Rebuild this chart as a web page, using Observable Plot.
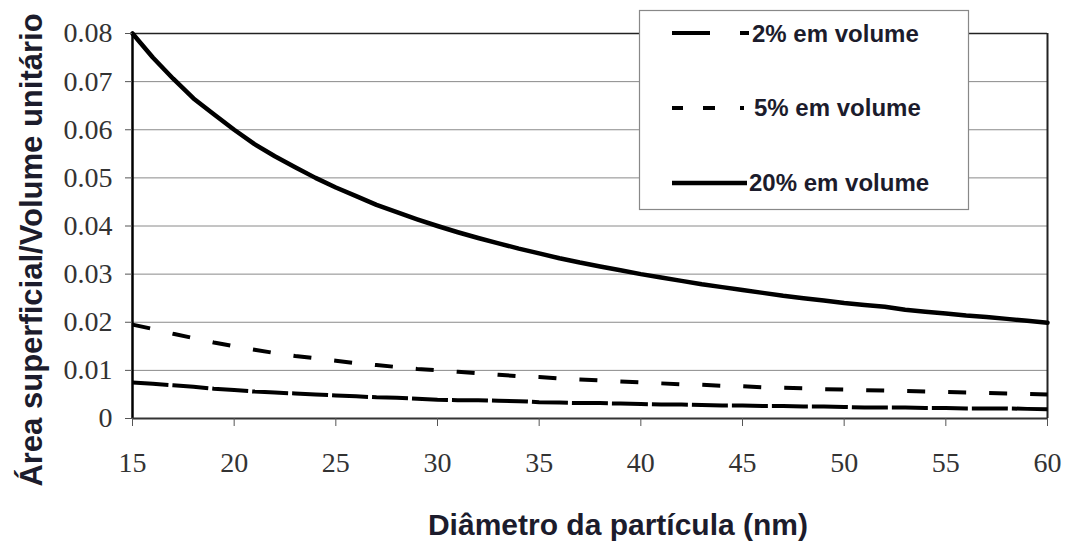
<!DOCTYPE html>
<html>
<head>
<meta charset="utf-8">
<script src="https://cdn.jsdelivr.net/npm/d3@7"></script>
<script src="https://cdn.jsdelivr.net/npm/@observablehq/plot@0.6"></script>
<style>
  body { margin: 0; background: #fff; }
  #wrap { position: relative; width: 1069px; height: 543px; }
  g[aria-label="y-axis tick label"] text, g[aria-label="x-axis tick label"] text {
    font-family: "Liberation Serif", serif !important; font-size: 28px !important; fill: #333 !important;
  }
  .ttl { font-family: "Liberation Sans", Arial, sans-serif; font-weight: bold; fill: #1c1c2c; }
</style>
</head>
<body>
<div id="wrap"></div>
<script>
// Particle diameter (nm)
const diameters = [15,16,17,18,19,20,21,22,23,24,25,26,27,28,29,30,31,32,33,34,35,36,37,38,39,40,41,42,43,44,45,46,47,48,49,50,51,52,53,54,55,56,57,58,59,60];
// Surface area / unit volume
const vol2 = [0.0075,0.0072,0.0069,0.0066,0.0062,0.0059,0.0056,0.0054,0.0052,0.0050,0.0048,0.0046,0.0044,0.0043,0.0041,0.0039,0.0038,0.0038,0.0037,0.0036,0.0034,0.0033,0.0032,0.0032,0.0031,0.0030,0.0029,0.0029,0.0028,0.0027,0.0027,0.0026,0.0026,0.0025,0.0025,0.0024,0.0023,0.0023,0.0023,0.0022,0.0022,0.0021,0.0021,0.0021,0.0020,0.0019];
const vol5 = [0.0195,0.0186,0.0176,0.0167,0.0158,0.0150,0.0143,0.0136,0.0130,0.0125,0.0120,0.0115,0.0111,0.0107,0.0103,0.0100,0.0097,0.0094,0.0091,0.0088,0.0086,0.0083,0.0081,0.0079,0.0077,0.0075,0.0073,0.0071,0.0070,0.0068,0.0067,0.0065,0.0064,0.0063,0.0061,0.0060,0.0059,0.0058,0.0057,0.0056,0.0055,0.0054,0.0053,0.0052,0.0051,0.0050];
const vol20 = [0.0800,0.0750,0.0706,0.0665,0.0632,0.0600,0.0570,0.0545,0.0522,0.0500,0.0480,0.0462,0.0444,0.0429,0.0414,0.0400,0.0387,0.0375,0.0364,0.0353,0.0343,0.0333,0.0324,0.0316,0.0308,0.0300,0.0293,0.0286,0.0279,0.0273,0.0267,0.0261,0.0255,0.0250,0.0245,0.0240,0.0236,0.0232,0.0226,0.0222,0.0218,0.0214,0.0211,0.0207,0.0203,0.0199];
const seriesNames = ["2% em volume", "5% em volume", "20% em volume"];
const xTicks = [15,20,25,30,35,40,45,50,55,60];
const yTicks = [0,0.01,0.02,0.03,0.04,0.05,0.06,0.07,0.08];
const xLabel = "Diâmetro da partícula (nm)";
const yLabel = "Área superficial/Volume unitário";

const rows = (vals, name) => diameters.map((d, i) => ({d, v: vals[i], s: name}));
const d2 = rows(vol2, seriesNames[0]);
const d5 = rows(vol5, seriesNames[1]);
const d20 = rows(vol20, seriesNames[2]);

const xMin = xTicks[0], xMax = xTicks[xTicks.length - 1];
const yMin = yTicks[0], yMax = yTicks[yTicks.length - 1];

const chart = Plot.plot({
  width: 1069,
  height: 543,
  marginLeft: 132,
  marginRight: 22,
  marginTop: 33,
  marginBottom: 125,
  style: {fontFamily: "Liberation Serif, serif", fontSize: "28px"},
  x: {domain: [xMin, xMax]},
  y: {domain: [yMin, yMax]},
  marks: [
    Plot.gridY(yTicks, {stroke: "#8a8a8a", strokeOpacity: 1, strokeWidth: 1}),
    Plot.ruleY([yMax], {stroke: "#222", strokeWidth: 1.5}),
    Plot.ruleX([xMax], {stroke: "#222", strokeWidth: 2}),
    Plot.line(d2, {x: "d", y: "v", stroke: "#000", strokeWidth: 4, strokeDasharray: "36,4", strokeLinecap: "butt"}),
    Plot.line(d5, {x: "d", y: "v", stroke: "#000", strokeWidth: 4, strokeDasharray: "18,23", strokeLinecap: "butt"}),
    Plot.line(d20, {x: "d", y: "v", stroke: "#000", strokeWidth: 4.5}),
    Plot.ruleX([xMin], {stroke: "#000", strokeWidth: 2.5}),
    Plot.ruleY([yMin], {stroke: "#333", strokeWidth: 2}),
    Plot.axisY({ticks: yTicks, tickSize: 7, tickPadding: 13, stroke: "#555",
      fontSize: 28, fontFamily: "Liberation Serif, serif",
      tickFormat: d => d === 0 ? "0" : d.toFixed(2), label: null}),
    Plot.axisX({ticks: xTicks, tickSize: 8, tickPadding: 26, stroke: "#555",
      fontSize: 28, fontFamily: "Liberation Serif, serif",
      tickFormat: d => String(d), label: null})
  ]
});

document.getElementById("wrap").appendChild(chart);
const svg = d3.select(chart);

// Axis titles
svg.append("text").attr("class", "ttl")
  .attr("transform", "translate(42,250) rotate(-90)")
  .attr("text-anchor", "middle").attr("font-size", 31).text(yLabel);
svg.append("text").attr("class", "ttl")
  .attr("x", 618).attr("y", 535)
  .attr("text-anchor", "middle").attr("font-size", 30).text(xLabel);

// Legend
const lg = svg.append("g");
lg.append("rect").attr("x", 639.5).attr("y", 10.5).attr("width", 329).attr("height", 199)
  .attr("fill", "#fff").attr("stroke", "#888").attr("stroke-width", 1.2);
const samples = [
  {name: seriesNames[0], dash: "38,30,9,100", w: 4, ly: 33, tx: 752, ty: 42, len: 77},
  {name: seriesNames[1], dash: "11,20,12,25,4,100", w: 4, ly: 108, tx: 754, ty: 116, len: 72},
  {name: seriesNames[2], dash: null, w: 4.5, ly: 183, tx: 749, ty: 191, len: 75}
];
for (const s of samples) {
  const ln = lg.append("line").attr("x1", 672).attr("x2", 672 + s.len)
    .attr("y1", s.ly).attr("y2", s.ly).attr("stroke", "#000").attr("stroke-width", s.w);
  if (s.dash) ln.attr("stroke-dasharray", s.dash);
  lg.append("text").attr("class", "ttl").attr("x", s.tx).attr("y", s.ty)
    .attr("text-anchor", "start").attr("font-size", 24).text(s.name);
}
</script>
</body>
</html>
